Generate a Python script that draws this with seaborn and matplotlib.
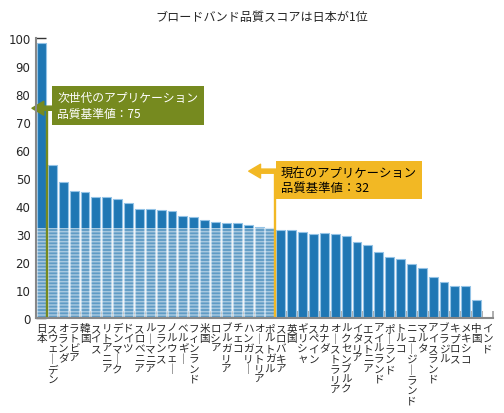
import numpy as np
import matplotlib
matplotlib.use("Agg")
import matplotlib.pyplot as plt
from matplotlib.patches import Rectangle
import seaborn as sns

countries = [
    "日本", "スウェーデン", "オランダ", "ラトビア", "韓国", "スイス", "リトアニア",
    "デンマーク", "ドイツ", "スロベニア", "ルーマニア", "フランス", "ノルウェー",
    "ベルギー", "フィンランド", "米国", "ロシア", "ブルガリア", "チェコ", "ハンガリー",
    "オーストリア", "ポルトガル", "スロバキア", "英国", "ギリシャ", "スペイン", "カナダ",
    "オーストラリア", "ルクセンブルク", "イタリア", "エストニア", "アイルランド",
    "ポーランド", "トルコ", "ニュージーランド", "マルタ", "アイスランド", "ブラジル",
    "キプロス", "メキシコ", "中国", "インド",
]
scores = [
    98.4, 54.8, 48.5, 45.5, 45.2, 43.1, 43.1, 42.4, 41.2, 39.0, 38.8, 38.6, 38.3,
    36.4, 36.0, 34.9, 34.3, 33.8, 33.8, 33.3, 32.4, 32.0, 31.3, 31.3, 30.6, 30.2,
    30.4, 29.9, 29.3, 27.1, 26.1, 23.5, 21.7, 21.1, 19.4, 18.0, 14.6, 12.7, 11.5,
    11.3, 6.4, 0.0,
]
next_gen_level = 75
current_level = 32
title = "ブロードバンド品質スコアは日本が1位"
next_gen_label = "次世代のアプリケーション\n品質基準値：75"
current_label = "現在のアプリケーション\n品質基準値：32"

BLUE = "#1f77b4"
GREEN = "#768a1f"
YELLOW = "#f2b824"

sns.set_style("white")
plt.rcParams["font.family"] = ["Noto Sans CJK JP", "DejaVu Sans"]
plt.rcParams["hatch.linewidth"] = 1.1

n = len(countries)
fig = plt.figure(figsize=(5.04, 4.14), dpi=100)
ax = fig.add_axes([36 / 504, 1 - 319 / 414, 457 / 504, (319 - 39.3) / 414])

sns.barplot(x=countries, y=scores, color=BLUE, saturation=1, width=0.82,
            edgecolor="#94c3e6", linewidth=0.8, ax=ax, zorder=2)

# where the thresholds fall between bars
x_next = sum(s >= next_gen_level for s in scores) - 0.5
x_curr = sum(s >= current_level for s in scores) - 0.5

# striped veil over the part under the current level
ax.add_patch(Rectangle((-0.5, 0), x_curr + 0.5, current_level,
                       facecolor=(0.86, 0.89, 0.91, 0.34),
                       edgecolor=(1, 1, 1, 0.45), hatch="-----",
                       linewidth=0, zorder=3))

arrow_style = "simple,head_length=0.85,head_width=1.0,tail_width=0.3"

# next-gen marker
ax.plot([x_next, x_next], [0, next_gen_level], color=GREEN, lw=1.7, zorder=4)
ax.annotate("", xy=(-0.87, next_gen_level), xytext=(1.0, next_gen_level),
            arrowprops=dict(arrowstyle=arrow_style, color=GREEN, shrinkA=0,
                            shrinkB=0, mutation_scale=10),
            annotation_clip=False, zorder=5)
ax.text(1.45, 75.9, next_gen_label, color="white", fontsize=8.5, ha="left",
        va="center", linespacing=1.25, zorder=6,
        bbox=dict(boxstyle="square,pad=0.45", fc=GREEN, ec="none"))

# current marker
arrow_y = 52.5
ax.plot([x_curr, x_curr], [0, arrow_y], color=YELLOW, lw=1.7, zorder=4)
ax.annotate("", xy=(x_curr - 2.45, arrow_y), xytext=(x_curr + 0.05, arrow_y),
            arrowprops=dict(arrowstyle=arrow_style, color=YELLOW, shrinkA=0,
                            shrinkB=0, mutation_scale=10),
            annotation_clip=False, zorder=5)
ax.text(x_curr + 0.5, 49.4, current_label, color="black", fontsize=8.9, ha="left",
        va="center", linespacing=1.2, zorder=6,
        bbox=dict(boxstyle="square,pad=0.4", fc=YELLOW, ec="none"))

ax.set_xlim(-0.5, n - 0.5)
ax.set_ylim(0, 100)
ax.set_xlabel("")
ax.set_ylabel("")

ax.set_yticks(range(0, 101, 10))
ax.set_yticklabels([str(v) for v in range(0, 101, 10)], family="DejaVu Sans")
ax.tick_params(axis="y", direction="in", length=7, width=1, color="#333333",
               labelsize=8.5, pad=4, left=True)

vertical = ["\n".join(c.replace("ー", "｜")) for c in countries]
ax.set_xticks(range(n))
ax.set_xticklabels(vertical, fontsize=7.6, va="top", linespacing=1.02)
ax.tick_params(axis="x", which="major", length=0, pad=3.5)
ax.set_xticks(np.arange(-0.5, n, 1), minor=True)
ax.tick_params(axis="x", which="minor", direction="in", length=5, width=1.2,
               color="#a0a0a0", bottom=True)

for side in ["top", "right"]:
    ax.spines[side].set_visible(False)
for side in ["left", "bottom"]:
    ax.spines[side].set_color("#888888")
    ax.spines[side].set_linewidth(1.5)
    ax.spines[side].set_zorder(7)

fig.text(262 / 504, 1 - 17 / 414, title, ha="center", va="center", fontsize=8.7)

fig.savefig("out.png", dpi=100)
